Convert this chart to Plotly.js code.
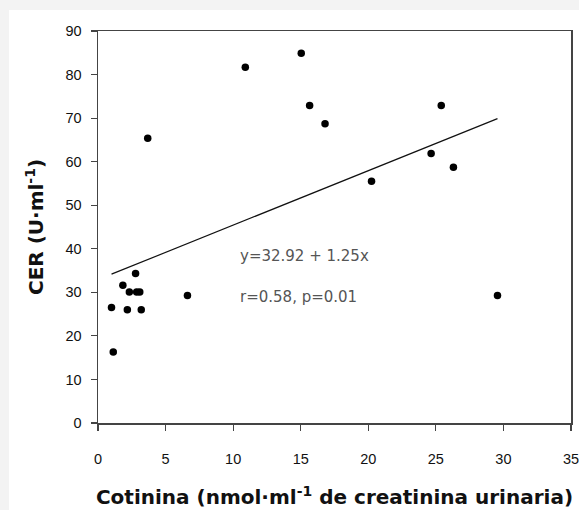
<!DOCTYPE html>
<html>
<head>
<meta charset="utf-8">
<script src="https://cdn.plot.ly/plotly-3.0.1.min.js"></script>
<style>
  html, body { margin: 0; padding: 0; background: #f3f3f3; width: 579px; height: 510px; overflow: hidden; }
  #chart { position: absolute; left: 9px; top: 10px; width: 590px; height: 500px; }
  #panel { position: absolute; left: 9px; top: 10px; width: 570px; height: 500px; background: #ffffff; }
</style>
</head>
<body>
<div id="panel"></div>
<div id="chart"></div>
<script>
// Cotinina (x) vs CER (y)
const cotinina = [1.0, 1.13, 1.84, 2.17, 2.32, 2.78, 2.86, 3.09, 3.2, 3.68, 6.62, 10.9, 15.04, 15.66, 16.8, 20.24, 24.65, 25.4, 26.3, 29.56];
const cer      = [26.5, 16.3, 31.6, 26.0, 30.1, 34.3, 30.1, 30.1, 26.0, 65.4, 29.3, 81.7, 84.9, 72.9, 68.7, 55.5, 61.9, 72.9, 58.7, 29.3];
const intercept = 32.92;
const slope = 1.25;
const eqText = "y=32.92 + 1.25x";
const statText = "r=0.58, p=0.01";
const xTicks = [0, 5, 10, 15, 20, 25, 30, 35];
const yTicks = [0, 10, 20, 30, 40, 50, 60, 70, 80, 90];

const xMin = Math.min(...cotinina), xMax = Math.max(...cotinina);
const fitX = [xMin, xMax];
const fitY = fitX.map(v => intercept + slope * v);

const traces = [
  { x: fitX, y: fitY, mode: 'lines', type: 'scatter',
    line: { color: '#111', width: 1.2 }, hoverinfo: 'skip', showlegend: false },
  { x: cotinina, y: cer, mode: 'markers', type: 'scatter',
    marker: { color: '#000', size: 7.5 }, showlegend: false }
];

const axisCommon = {
  showgrid: false, zeroline: false, showline: true, mirror: true,
  linecolor: '#444', linewidth: 1.5,
  ticks: 'outside', ticklen: 6, tickwidth: 1.2, tickcolor: '#444',
  tickfont: { family: 'Liberation Sans, Arial, sans-serif', size: 14.5, color: '#111' }
};

const titleFont = { family: 'DejaVu Sans, sans-serif', size: 20, color: '#111', weight: 'bold' };

const layout = {
  width: 590, height: 500,
  margin: { l: 89, r: 28, t: 20.5, b: 86.7 },
  paper_bgcolor: 'rgba(0,0,0,0)', plot_bgcolor: '#ffffff',
  showlegend: false,
  xaxis: Object.assign({}, axisCommon, {
    range: [0, 35], tickvals: xTicks, ticktext: xTicks.map(String),
    ticklabelstandoff: 16,
    title: { text: 'Cotinina (nmol·ml<sup>-1</sup> de creatinina urinaria)',
      font: titleFont, standoff: 24 }
  }),
  yaxis: Object.assign({}, axisCommon, {
    range: [0, 90], tickvals: yTicks, ticktext: yTicks.map(String),
    ticklabelstandoff: 6,
    title: { text: 'CER (U·ml<sup>-1</sup>)',
      font: Object.assign({}, titleFont, { size: 20 }), standoff: 16 }
  }),
  annotations: [
    { x: 10.38, y: 38.3, xref: 'x', yref: 'y', text: eqText, showarrow: false,
      xanchor: 'left', yanchor: 'middle',
      font: { family: 'DejaVu Sans, sans-serif', size: 15, color: '#555' } },
    { x: 10.38, y: 28.9, xref: 'x', yref: 'y', text: statText, showarrow: false,
      xanchor: 'left', yanchor: 'middle',
      font: { family: 'DejaVu Sans, sans-serif', size: 15, color: '#555' } }
  ]
};

Plotly.newPlot('chart', traces, layout, { displayModeBar: false, staticPlot: true });
</script>
</body>
</html>
